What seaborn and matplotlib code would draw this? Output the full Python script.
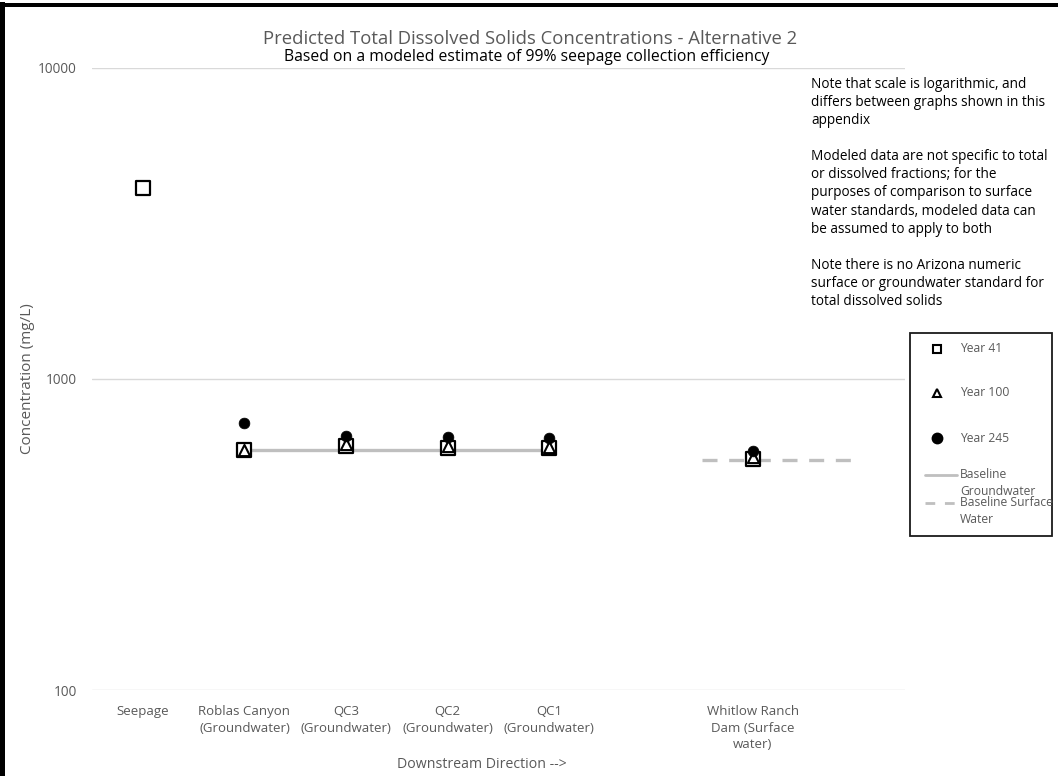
import numpy as np
import pandas as pd
import matplotlib
matplotlib.use("Agg")
import matplotlib.pyplot as plt
import seaborn as sns
from matplotlib.lines import Line2D
from matplotlib.patches import Rectangle
from matplotlib import font_manager

# ---------------- data ----------------
categories = ["Seepage", "Roblas Canyon\n(Groundwater)", "QC3\n(Groundwater)",
              "QC2\n(Groundwater)", "QC1\n(Groundwater)", "",
              "Whitlow Ranch\nDam (Surface\nwater)", ""]
year41 = [4100, 590, 610, 600, 600, np.nan, 555, np.nan]
year100 = [np.nan, 590, 620, 608, 605, np.nan, 560, np.nan]
year245 = [np.nan, 720, 655, 650, 645, np.nan, 585, np.nan]
baseline_gw_cats = ["Roblas Canyon\n(Groundwater)", "QC3\n(Groundwater)",
                    "QC2\n(Groundwater)", "QC1\n(Groundwater)"]
baseline_gw = [590, 590, 590, 590]
baseline_sw = [548, 548]
y_ticks = [100, 1000, 10000]

title = "Predicted Total Dissolved Solids Concentrations - Alternative 2"
subtitle = "Based on a modeled estimate of 99% seepage collection efficiency"
note_text = ("Note that scale is logarithmic, and\ndiffers between graphs shown in this\nappendix\n\n"
             "Modeled data are not specific to total\nor dissolved fractions; for the\n"
             "purposes of comparison to surface\nwater standards, modeled data can\n"
             "be assumed to apply to both\n\n"
             "Note there is no Arizona numeric\nsurface or groundwater standard for\n"
             "total dissolved solids")

# ---------------- style ----------------
sns.set_theme(style="white")
avail = {f.name for f in font_manager.fontManager.ttflist}
fams = [f for f in ["Open Sans", "Liberation Sans", "DejaVu Sans"] if f in avail]
plt.rcParams['font.family'] = fams

GRAY_TXT = "#595959"
GRID = "#d9d9d9"
LINE = "#bfbfbf"

pos = {c: i for i, c in enumerate(categories)}
xs = np.arange(len(categories))
df = pd.DataFrame({"x": xs, "y41": year41, "y100": year100, "y245": year245})

W, H = 1058, 776
fig = plt.figure(figsize=(W / 100, H / 100), dpi=100)
ax = fig.add_axes([92 / W, 1 - 690 / H, (905 - 92) / W, (690 - 68) / H])

ax.set_yscale("log")
ax.set_ylim(100, 10000)
ax.set_xlim(-0.5, len(categories) - 0.5)

# baselines
gw = pd.DataFrame({"x": [pos[c] for c in baseline_gw_cats], "y": baseline_gw})
sns.lineplot(data=gw, x="x", y="y", ax=ax, color=LINE, lw=2.4, zorder=2)
w_idx = categories.index("Whitlow Ranch\nDam (Surface\nwater)")
sw = pd.DataFrame({"x": [w_idx - 0.5, w_idx + 1.0], "y": baseline_sw})
sns.lineplot(data=sw, x="x", y="y", ax=ax, color=LINE, lw=2.4, zorder=2,
             dashes=False, linestyle=(0, (4.5, 3.5)))

# markers
sns.scatterplot(data=df, x="x", y="y41", ax=ax, marker="s", s=100,
                facecolor="white", edgecolor="black", linewidth=1.6, zorder=3)
sns.scatterplot(data=df, x="x", y="y100", ax=ax, marker="^", s=65,
                facecolor="white", edgecolor="black", linewidth=1.5, zorder=4)
sns.scatterplot(data=df, x="x", y="y245", ax=ax, marker="o", s=60,
                color="black", edgecolor="black", linewidth=0.5, zorder=5)

# axes styling
for s in ax.spines.values():
    s.set_visible(False)
ax.set_yticks(y_ticks)
ax.set_yticklabels([str(v) for v in y_ticks])
ax.yaxis.set_minor_locator(matplotlib.ticker.NullLocator())
ax.grid(axis="y", which="major", color=GRID, lw=1)
ax.grid(axis="x", visible=False)
ax.set_xticks(xs)
ax.set_xticklabels(categories, linespacing=1.35)
ax.tick_params(axis="x", length=0, pad=11, labelsize=9.5, colors=GRAY_TXT)
ax.tick_params(axis="y", length=0, pad=11, labelsize=9.8, colors=GRAY_TXT)
ax.set_xlabel("Downstream Direction -->", color=GRAY_TXT, fontsize=10.2, va="center")
ax.xaxis.set_label_coords(0.48, -75 / 622)
ax.set_ylabel("Concentration (mg/L)", color=GRAY_TXT, fontsize=11)
ax.yaxis.set_label_coords(-57 / 813, 0.5)

# titles
fig.text(530 / W, 1 - 39 / H, title, ha="center", va="center", color=GRAY_TXT, fontsize=13.3)
fig.text(527 / W, 1 - 57 / H, subtitle, ha="center", va="center", color="black", fontsize=11.3)

# note
fig.text(811 / W, 1 - 77 / H, note_text, ha="left", va="top", color="black",
         fontsize=9.8, linespacing=1.28)

# legend (manual box)
fig.patches.append(Rectangle((910 / W, 1 - 536 / H), (1052 - 910) / W, (536 - 333) / H,
                             transform=fig.transFigure, facecolor="white",
                             edgecolor="#1a1a1a", lw=1.3, zorder=1))
leg_items = [("s", 349, "Year 41"), ("^", 393, "Year 100"), ("o", 438, "Year 245")]
for m, y, lab in leg_items:
    fc = "black" if m == "o" else "white"
    fig.add_artist(Line2D([937 / W], [1 - y / H], marker=m, markersize=6.0 if m != "o" else 7,
                          markerfacecolor=fc, markeredgecolor="black", markeredgewidth=1.5,
                          linestyle="none", transform=fig.transFigure))
    fig.text(960 / W, 1 - y / H, lab, ha="left", va="center", color=GRAY_TXT, fontsize=8.7)
fig.add_artist(Line2D([925 / W, 957 / W], [1 - 475 / H] * 2, color=LINE, lw=2,
                      transform=fig.transFigure))
fig.text(960 / W, 1 - 483 / H, "Baseline\nGroundwater", ha="left", va="center",
         color=GRAY_TXT, fontsize=8.7, linespacing=1.35)
fig.add_artist(Line2D([925 / W, 957 / W], [1 - 503 / H] * 2, color=LINE, lw=2,
                      linestyle=(0, (3.5, 3.5)), transform=fig.transFigure))
fig.text(960 / W, 1 - 511 / H, "Baseline Surface\nWater", ha="left", va="center",
         color=GRAY_TXT, fontsize=8.7, linespacing=1.35)

# outer frame (left and top edges)
fig.patches.append(Rectangle((0, 0), 5 / W, 1 - 2 / H, transform=fig.transFigure,
                             facecolor="black", edgecolor="none"))
fig.patches.append(Rectangle((0, 1 - 7 / H), 1, 4 / H, transform=fig.transFigure,
                             facecolor="black", edgecolor="none"))

fig.savefig("out.png", dpi=100, facecolor="white")
